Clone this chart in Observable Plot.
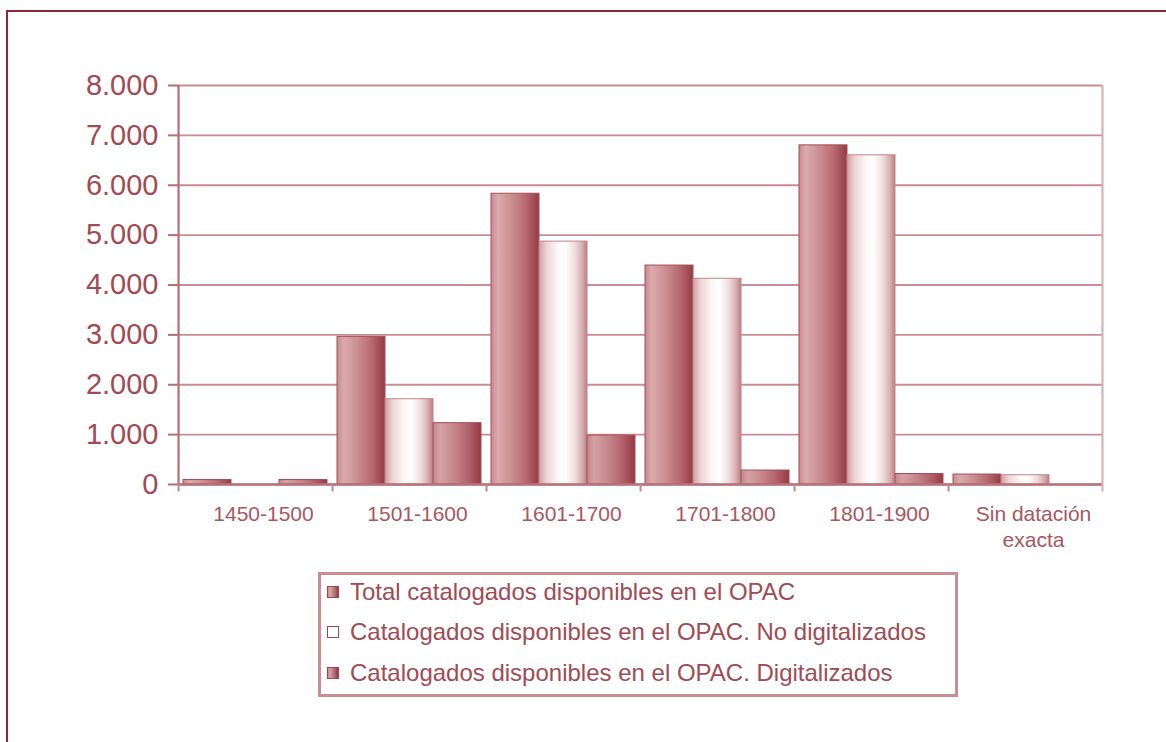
<!DOCTYPE html>
<html><head><meta charset="utf-8">
<script src="https://cdn.jsdelivr.net/npm/d3@7"></script>
<script src="https://cdn.jsdelivr.net/npm/@observablehq/plot@0.6"></script>
<style>
html,body{margin:0;padding:0;background:#fff;overflow:hidden;width:1166px;height:742px}
#frame{position:absolute;left:6px;top:10px;width:1300px;height:900px;border-left:2px solid #8c2740;border-top:2px solid #8c2740}
#chart{position:absolute;left:0;top:0}
#legend{position:absolute;left:318px;top:572px;width:634px;height:119px;border:3px solid #c98d92;font-family:"Liberation Sans",Arial,sans-serif;font-size:24px;color:#a04b54;background:#fff}
.row{position:absolute;left:6px;height:30px;display:flex;align-items:center;white-space:nowrap}
.sw{width:10px;height:10px;border:1px solid #9b4650;margin-right:11px;flex:none}
</style></head><body>
<div id="frame"></div>
<svg width="0" height="0" style="position:absolute"><defs>
<linearGradient id="gTotal" x1="0" x2="1" y1="0" y2="0">
<stop offset="0" stop-color="#c68a8f"/><stop offset="0.14" stop-color="#dbaaad"/><stop offset="0.4" stop-color="#cc9195"/><stop offset="0.7" stop-color="#b86c73"/><stop offset="0.9" stop-color="#a24b55"/><stop offset="1" stop-color="#933b46"/>
</linearGradient>
<linearGradient id="gNo" x1="0" x2="1" y1="0" y2="0">
<stop offset="0" stop-color="#cf9da0"/><stop offset="0.15" stop-color="#ecd3d4"/><stop offset="0.4" stop-color="#fdf8f8"/><stop offset="0.55" stop-color="#ffffff"/><stop offset="0.75" stop-color="#efdcdd"/><stop offset="0.9" stop-color="#d6adb0"/><stop offset="1" stop-color="#bd7c82"/>
</linearGradient>
<linearGradient id="gDig" x1="0" x2="1" y1="0" y2="0">
<stop offset="0" stop-color="#c2858a"/><stop offset="0.15" stop-color="#d5a2a6"/><stop offset="0.45" stop-color="#c5868b"/><stop offset="0.75" stop-color="#b0606a"/><stop offset="0.92" stop-color="#9e4550"/><stop offset="1" stop-color="#913a45"/>
</linearGradient>
</defs></svg>
<div id="chart"></div>
<div id="legend"></div>
<script>
// ---- data ----
const categories = ["1450-1500", "1501-1600", "1601-1700", "1701-1800", "1801-1900", "Sin datación exacta"];
const seriesKeys = ["total", "noDig", "dig"];
const seriesLabels = [
  "Total catalogados disponibles en el OPAC",
  "Catalogados disponibles en el OPAC. No digitalizados",
  "Catalogados disponibles en el OPAC. Digitalizados"
];
const totalValues = [90, 2960, 5830, 4390, 6800, 200];
const noDigValues = [0, 1710, 4870, 4125, 6600, 185];
const digValues = [90, 1230, 980, 280, 210, 0];
const yTicks = [0, 1000, 2000, 3000, 4000, 5000, 6000, 7000, 8000];

// ---- table ----
const valuesBySeries = {total: totalValues, noDig: noDigValues, dig: digValues};
const rows = [];
seriesKeys.forEach(s => categories.forEach((c, i) => rows.push({cat: c, series: s, value: valuesBySeries[s][i]})));
const fills = {total: "url(#gTotal)", noDig: "url(#gNo)", dig: "url(#gDig)"};
const strokes = {total: "#a44f58", noDig: "#c0848a", dig: "#a44f58"};

const W = 1166, H = 560, mL = 176, mR = 63, mT = 85, mB = 76;
const facetW = (W - mL - mR) / categories.length;
const po = 0.1;
const step = facetW / (seriesKeys.length + 2 * po);
const edge = (0.5 + po) * step;
const fmt = d => d3.format(",")(d).replace(/,/g, ".");
const textColor = "#a24a52";

const chart = Plot.plot({
  width: W, height: H,
  marginLeft: mL, marginRight: mR, marginTop: mT, marginBottom: mB,
  style: {fontFamily: "'Liberation Sans', Arial, sans-serif", background: "transparent", color: textColor},
  fx: {domain: categories, padding: 0, label: null},
  x: {domain: seriesKeys, paddingInner: 0, paddingOuter: po, axis: null},
  y: {domain: [0, 8000], label: null},
  marks: [
    Plot.gridY(yTicks, {stroke: "#c98c90", strokeOpacity: 1, strokeWidth: 1.8}),
    ...seriesKeys.map(s => Plot.barY(rows.filter(r => r.series === s), {
      fx: "cat", x: "series", y: "value", fill: fills[s], stroke: strokes[s], strokeWidth: 1
    })),
    Plot.ruleY([0], {stroke: "#b8737a", strokeWidth: 2.5}),
    Plot.ruleX(categories, {fx: d => d, x: () => seriesKeys[0], dx: -edge, y1: 0, y2: -150, stroke: "#c4858b", strokeWidth: 2}),
    Plot.ruleX([categories[0]], {fx: d => d, x: () => seriesKeys[0], dx: -edge, y1: 0, y2: 8000, stroke: "#b46e75", strokeWidth: 2.2}),
    Plot.ruleX([categories[categories.length - 1]], {fx: d => d, x: () => seriesKeys[2], dx: edge, y1: -150, y2: 8000, stroke: "#d7aaad", strokeWidth: 2}),
    Plot.axisY(yTicks, {tickSize: 10, tickPadding: 10, fontSize: 29, tickFormat: fmt, stroke: "#b46e75", strokeWidth: 2, fill: textColor, label: null}),
    Plot.axisFx({anchor: "bottom", tickSize: 0, tickPadding: 19, fontSize: 21, dx: 8, lineHeight: 1.2, fill: "#a9565e", label: null,
      tickFormat: d => d === "Sin datación exacta" ? "Sin datación\nexacta" : d})
  ]
});
document.getElementById("chart").appendChild(chart);

// ---- legend ----
const legend = document.getElementById("legend");
const swatchBg = {
  total: "linear-gradient(to right,#c68a8f,#dbaaad 20%,#b86c73 70%,#933b46)",
  noDig: "#ffffff",
  dig: "linear-gradient(to right,#c2858a,#d5a2a6 20%,#b0606a 70%,#913a45)"
};
const rowTops = [2, 42, 83];
seriesKeys.forEach((s, i) => {
  const row = document.createElement("div");
  row.className = "row";
  row.style.top = rowTops[i] + "px";
  const sw = document.createElement("span");
  sw.className = "sw";
  sw.style.background = swatchBg[s];
  const t = document.createElement("span");
  t.textContent = seriesLabels[i];
  row.appendChild(sw); row.appendChild(t);
  legend.appendChild(row);
});
</script>
</body></html>
